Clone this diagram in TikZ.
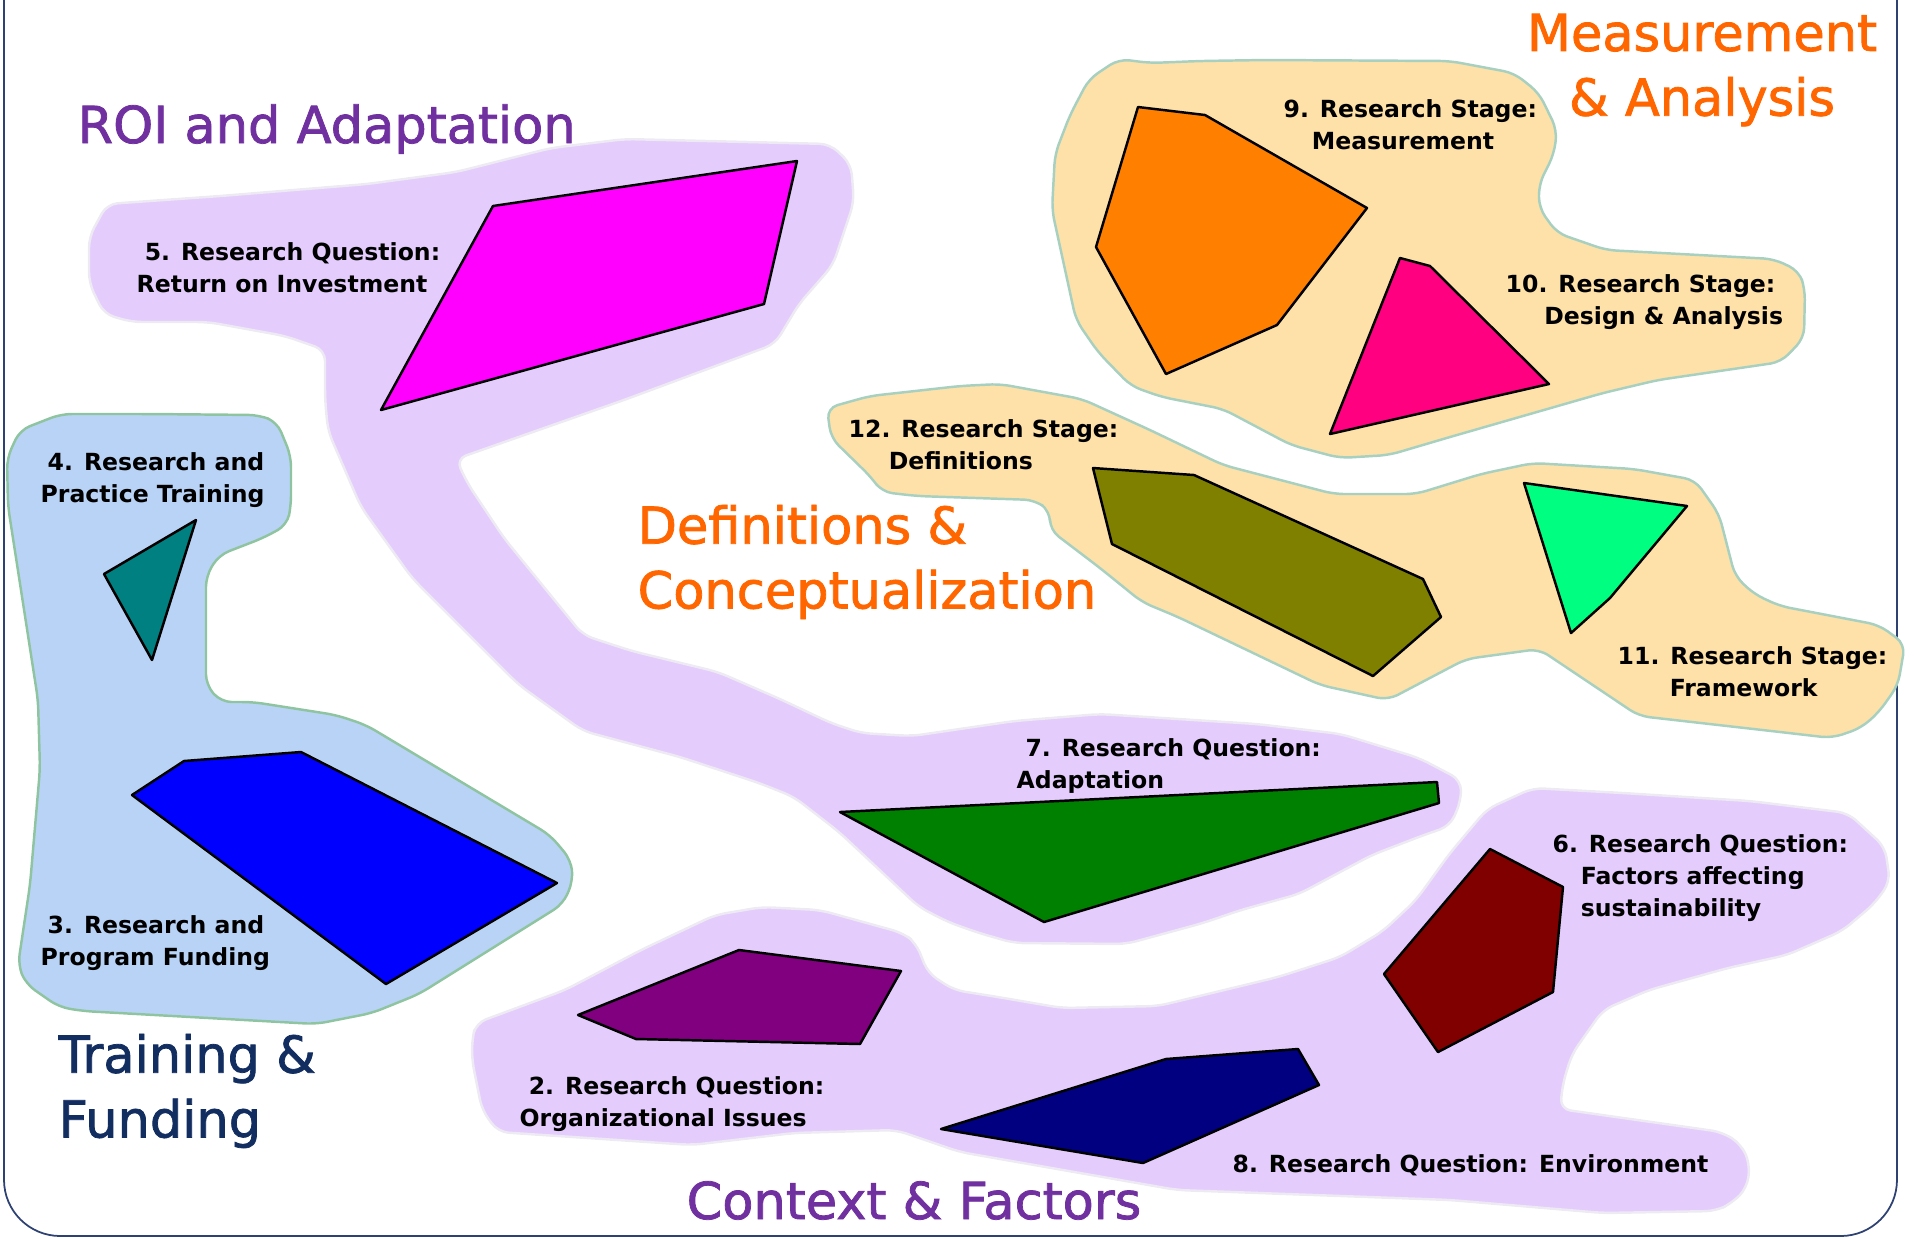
\documentclass[tikz,border=0pt]{standalone}
\usepackage{fontspec}
\setmainfont{DejaVu Sans}
\newfontfamily\headfont{DejaVu Sans}[FakeBold=1.5]
\usetikzlibrary{positioning}
\definecolor{LavFill}{RGB}{228,205,252}
\definecolor{LavEdge}{RGB}{238,234,244}
\definecolor{SkyFill}{RGB}{185,211,246}
\definecolor{SkyEdge}{RGB}{143,196,160}
\definecolor{SandFill}{RGB}{253,225,169}
\definecolor{SandEdge}{RGB}{167,208,192}
\definecolor{FrameBlue}{RGB}{45,65,115}
\definecolor{TitlePurple}{RGB}{112,48,160}
\definecolor{TitleOrange}{RGB}{255,102,0}
\definecolor{TitleNavy}{RGB}{18,45,95}
\definecolor{ShMagenta}{RGB}{255,0,255}
\definecolor{ShTeal}{RGB}{0,128,128}
\definecolor{ShBlue}{RGB}{0,0,255}
\definecolor{ShOrange}{RGB}{255,128,0}
\definecolor{ShPink}{RGB}{255,0,128}
\definecolor{ShOlive}{RGB}{128,128,0}
\definecolor{ShSpring}{RGB}{0,255,128}
\definecolor{ShGreen}{RGB}{0,128,0}
\definecolor{ShMaroon}{RGB}{128,0,0}
\definecolor{ShPurple}{RGB}{128,0,128}
\definecolor{ShNavy}{RGB}{0,0,128}
\tikzset{
  frame/.style={draw=FrameBlue,line width=0.5pt,rounded corners=16pt},
  lavblob/.style={fill=LavFill,draw=LavEdge,line width=0.7pt,rounded corners=3pt},
  skyblob/.style={fill=SkyFill,draw=SkyEdge,line width=0.7pt,rounded corners=3pt},
  sandblob/.style={fill=SandFill,draw=SandEdge,line width=0.7pt,rounded corners=3pt},
  poly/.style={draw=black,line width=0.7pt,line join=round},
  title/.style={font=\headfont\fontsize{14.5}{18.4}\selectfont,inner sep=0pt},
  lab/.style={font=\bfseries\fontsize{6.7}{9.1}\selectfont,inner sep=0pt,align=left,anchor=west},
}

\begin{document}
\begin{tikzpicture}[x=0.01cm,y=-0.01cm]
\useasboundingbox (0,0) rectangle (1920,1238);
\draw[frame] (4,-120) -- (4,1236) -- (1897,1236) -- (1897,-120);

% regions
\path[lavblob] (89,260) -- (89,237) -- (107,204) -- (220,196) -- (367,184) -- (456,172)
  -- (551,148) -- (625,139) -- (830,144) -- (851,164) -- (854,202) -- (833,265) -- (799,304)
  -- (775,344) -- (624,400) -- (456,459) -- (468,484) -- (504,538) -- (583,635) -- (632,651)
  -- (718,672) -- (780,699) -- (831,723) -- (861,733) -- (912,736) -- (1014,721) -- (1100,714)
  -- (1257,724) -- (1341,734) -- (1419,758) -- (1461,780) -- (1461,801) -- (1450,826)
  -- (1424,835) -- (1372,855) -- (1299,894) -- (1241,910) -- (1203,923) -- (1126,944)
  -- (1014,943) -- (979,933) -- (948,922) -- (919,907) -- (839,832) -- (794,797) -- (759,783)
  -- (680,757) -- (583,731) -- (519,685) -- (412,578) -- (361,507) -- (328,431) -- (325,399)
  -- (325,350) -- (285,336) -- (208,322) -- (132,322) -- (104,314) -- (89,283) -- cycle;
\path[lavblob] (472,1040) -- (476,1023) -- (565,990) -- (641,950) -- (715,915) -- (762,907)
  -- (820,910) -- (903,933) -- (916,943) -- (928,973) -- (954,990) -- (998,997) -- (1062,1008)
  -- (1158,1006) -- (1278,977) -- (1340,957) -- (1383,931) -- (1416,900) -- (1450,853)
  -- (1487,809) -- (1533,788) -- (1623,793) -- (1750,801) -- (1848,813) -- (1885,847)
  -- (1890,882) -- (1874,904) -- (1842,931) -- (1787,955) -- (1728,968) -- (1649,990)
  -- (1603,1010) -- (1572,1054) -- (1563,1083) -- (1560,1109) -- (1722,1132) -- (1741,1144)
  -- (1750,1164) -- (1747,1188) -- (1732,1203) -- (1716,1211) -- (1603,1213) -- (1450,1200)
  -- (1177,1190) -- (960,1152) -- (896,1130) -- (794,1133) -- (692,1145) -- (498,1132)
  -- (482,1110) -- (472,1060) -- cycle;
\path[skyblob] (150,414) -- (259,415) -- (277,422) -- (291,456) -- (291,506)
  -- (287,525) -- (263,538) -- (219,555) -- (206,576) -- (206,599) -- (206,685) -- (221,702)
  -- (253,702) -- (336,715) -- (366,725) -- (550,835) -- (571,860) -- (573,881) -- (563,904)
  -- (419,994) -- (372,1013) -- (316,1024) -- (83,1011) -- (59,1007) -- (26,984) -- (18,965)
  -- (30,885) -- (40,769) -- (38,700) -- (8,506) -- (7,458) -- (20,430) -- (61,414) -- cycle;
\path[sandblob] (1200,61) -- (1266,60) -- (1450,61) -- (1514,73) -- (1539,93)
  -- (1557,130) -- (1554,154) -- (1539,184) -- (1539,208) -- (1557,233) -- (1606,250)
  -- (1774,259) -- (1799,271) -- (1805,289) -- (1804,338) -- (1781,362) -- (1658,380)
  -- (1603,393) -- (1450,437) -- (1389,455) -- (1340,458) -- (1291,445) -- (1223,409)
  -- (1162,397) -- (1131,386) -- (1098,352) -- (1076,320) -- (1052,210) -- (1055,154)
  -- (1070,115) -- (1089,79) -- (1119,59) -- (1150,63) -- cycle;
\path[sandblob] (1150,430) -- (1223,465) -- (1334,494) -- (1416,494) -- (1481,474) -- (1533,463)
  -- (1634,469) -- (1695,480) -- (1719,514) -- (1735,576) -- (1754,594) -- (1780,606)
  -- (1879,625) -- (1905,644) -- (1898,685) -- (1879,712) -- (1861,728) -- (1832,738)
  -- (1780,732) -- (1639,716) -- (1539,649) -- (1466,659) -- (1388,700) -- (1320,685)
  -- (1178,617) -- (1142,602) -- (1100,568) -- (1050,530) -- (1050,511) -- (1035,500)
  -- (917,496) -- (882,492) -- (871,477) -- (831,438) -- (827,408) -- (870,396) -- (960,386)
  -- (1000,384) -- (1082,399) -- cycle;

% shapes
\draw[poly,fill=ShMagenta] (493,206) -- (797,161) -- (764,304) -- (381,410) -- cycle;
\draw[poly,fill=ShTeal] (196,520) -- (104,574) -- (152,660) -- cycle;
\draw[poly,fill=ShBlue] (132,795) -- (184,761) -- (301,752) -- (557,883) -- (386,984) -- cycle;
\draw[poly,fill=ShOrange] (1138,107) -- (1205,115) -- (1367,208) -- (1277,325)
  -- (1166,374) -- (1096,247) -- cycle;
\draw[poly,fill=ShPink] (1400,258) -- (1430,266) -- (1549,384) -- (1330,434) -- cycle;
\draw[poly,fill=ShOlive] (1093,468) -- (1194,475) -- (1423,579) -- (1441,617) -- (1373,676)
  -- (1112,544) -- cycle;
\draw[poly,fill=ShSpring] (1524,483) -- (1687,506) -- (1610,598) -- (1571,633) -- cycle;
\draw[poly,fill=ShGreen] (840,812) -- (1437,782) -- (1439,803) -- (1044,922) -- cycle;
\draw[poly,fill=ShMaroon] (1490,849) -- (1563,887) -- (1553,992) -- (1438,1052)
  -- (1384,974) -- cycle;
\draw[poly,fill=ShPurple] (739,950) -- (901,971) -- (860,1044) -- (636,1039)
  -- (578,1015) -- cycle;
\draw[poly,fill=ShNavy] (1166,1059) -- (1298,1049) -- (1319,1085) -- (1143,1163)
  -- (941,1129) -- cycle;

% titles
\node[title,text=TitlePurple,anchor=base west] (roi) at (77,143) {ROI and Adaptation};
\node[title,text=TitlePurple,anchor=base west] (ctx) at (686,1219) {Context \& Factors};
\node[title,text=TitleOrange,align=center] (meas) at (1702,70) {Measurement\\\& Analysis};
\node[title,text=TitleOrange,align=left,anchor=west] (defs) at (637,562) {Definitions \&\\Conceptualization};
\node[title,text=TitleNavy,align=left,anchor=west] (train) at (58,1091) {Training \&\\Funding};

% labels
\node[lab] (q5) at (136,268) {\hspace*{2.3pt}5. Research Question:\\Return on Investment};
\node[lab] (q4) at (40,480) {\hspace*{2pt}4. Research and\\Practice Training};
\node[lab] (q3) at (40,943) {\hspace*{2pt}3. Research and\\Program Funding};
\node[lab] (s12) at (848,445) {12. Research Stage:\\\hspace*{11.4pt}Definitions};
\node[lab] (s9) at (1283,125) {9. Research Stage:\\\hspace*{8pt}Measurement};
\node[lab] (s10) at (1505,302) {10. Research Stage:\\\hspace*{11pt}Design \& Analysis};
\node[lab] (s11) at (1617,672) {11. Research Stage:\\\hspace*{14.8pt}Framework};
\node[lab] (q7) at (1016,766) {\hspace*{2.5pt}7. Research Question:\\Adaptation};
\node[lab] (q6) at (1552,878) {6. Research Question:\\\hspace*{8pt}Factors affecting\\\hspace*{8pt}sustainability};
\node[lab] (q2) at (519,1104) {\hspace*{2.6pt}2. Research Question:\\Organizational Issues};
\node[lab] (q8) at (1232,1165) {8. Research Question: Environment};
\end{tikzpicture}
\end{document}
